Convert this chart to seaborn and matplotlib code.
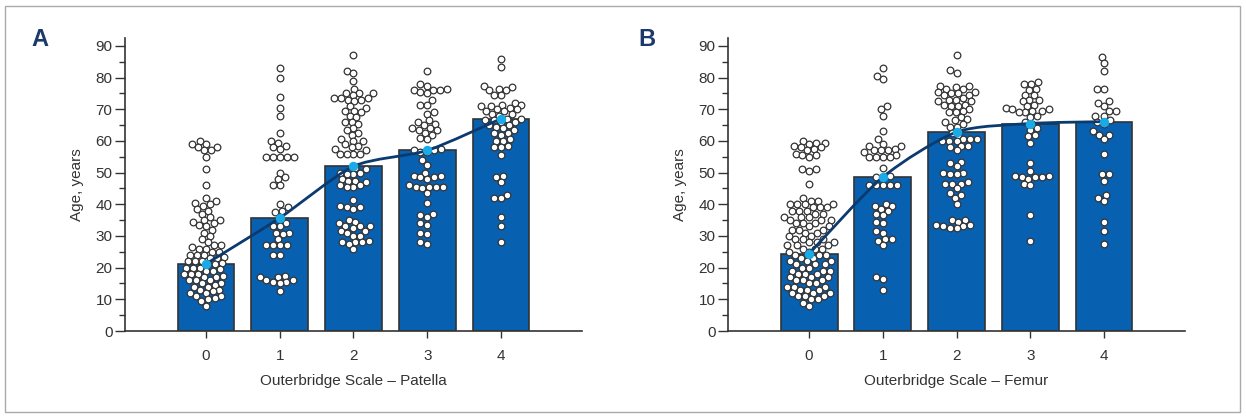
import numpy as np
import pandas as pd
import seaborn as sns
import matplotlib
matplotlib.use("Agg")
import matplotlib.pyplot as plt
from matplotlib.path import Path
from matplotlib.patches import PathPatch, Rectangle
from matplotlib.ticker import MultipleLocator

grades = ["0", "1", "2", "3", "4"]

# bar heights / mean age per grade
patella_means = [21.2, 35.7, 52.0, 57.0, 67.0]
femur_means = [24.4, 48.6, 62.8, 65.5, 66.1]

# individual ages, patella
patella_0 = [60, 59, 59, 58, 58, 57, 57, 55, 51, 46,
             42, 41, 40.5, 40, 39.5, 38.5, 38, 37, 36, 35, 35, 34.5, 34, 33.5, 33, 32, 31, 30, 29,
             28, 27, 27, 26.5, 26, 26, 25, 25, 24, 24, 24, 23.5, 23, 23, 22, 22, 22, 21.5, 21, 21,
             20, 20, 20, 19.5, 19, 19, 18, 18, 18, 17.5, 17, 17, 16, 16, 16, 15, 15, 14.5, 14, 14,
             13, 13, 12.5, 12, 12, 11, 11, 10.5, 10, 9.5, 8]
patella_1 = [83, 80, 74, 70.5, 68, 62.5, 60, 59.5, 58.5, 58, 57.5, 55, 55, 55, 55, 55, 50, 48.5,
             48, 46, 46, 40, 39, 38, 37.5, 36, 34, 33, 33, 31, 31, 30.5, 29, 27, 27, 27, 27, 24, 24,
             17.5, 17, 17, 16, 16, 15.5, 15.5, 15, 12.5]
patella_2 = [87, 82, 81.5, 79, 76.5, 75, 75, 75, 74.5, 73.5, 73.5, 73.5, 73, 73, 72.5, 71, 70.5,
             69.5, 69.5, 69, 68, 67.5, 66, 66, 65.5, 64, 63.5, 62.5, 62, 60.5, 60, 60, 59, 58.5, 58,
             57.5, 57, 56, 56, 56, 56, 51.5, 51, 50, 50, 49.5, 49.5, 48, 47.5, 47.5, 47, 46, 46,
             45.5, 45.5, 41.5, 39.5, 39, 39, 38.5, 35, 34.5, 34, 33, 33, 33, 32.5, 31.5, 31.5, 31,
             30, 30, 28.5, 28, 28, 28, 27.5, 26]
patella_3 = [82, 78, 77.5, 76.5, 76, 76, 76, 75.5, 75, 73, 71.5, 71.5, 69, 68.5, 66.5, 66, 65.5,
             65, 64, 64, 63.5, 63.5, 62.5, 62, 61, 60.5, 57.5, 57, 57, 56.5, 56.5, 54, 52.5, 50, 49,
             49, 48.5, 48.5, 48, 46, 45.5, 45.5, 45.5, 45.5, 45, 43.5, 40.5, 37, 36.5, 36, 34, 33.5,
             31, 30.5, 28, 27.5]
patella_4 = [86, 83.5, 77.5, 77, 76.5, 76, 76, 74.5, 74.5, 72, 71.5, 71.5, 71, 71, 70.5, 70, 70,
             69.5, 69.5, 68.5, 68.5, 68, 67, 67, 66.5, 66.5, 66, 66, 65, 65, 64.5, 64, 63.5, 62.5,
             62.5, 62, 60.5, 60, 60, 58.5, 58, 58, 55.5, 49, 48.5, 47, 43, 42, 42, 36, 33, 28]

# individual ages, femur
femur_0 = [60, 59.5, 59.5, 59, 58.5, 58, 58, 57.5, 57, 56, 55.5, 55.5, 55, 51, 51, 50.5, 46.5,
           42, 41, 41, 40, 40, 40, 40, 39, 39, 39, 38, 38, 38, 37, 37, 36, 36, 36, 35, 35, 35,
           34, 34, 34, 33, 33, 32, 32, 32, 31, 31, 30, 30, 29, 29, 29, 28, 28, 28, 27, 27, 27,
           26, 26, 26, 25, 25, 24, 24, 24, 23, 23, 22, 22, 22, 21, 21, 21, 20, 20, 19, 19, 19,
           18, 18, 18, 17, 17, 17, 16, 16, 16, 15, 15, 14, 14, 14, 13, 13, 13, 12, 12, 12,
           11, 11, 11, 10, 10, 9, 8]
femur_1 = [83, 80.5, 79.5, 71, 70, 68, 63, 60.5, 59, 58.5, 58.5, 57.5, 57, 57, 57, 56.5, 55.5,
           55, 55, 55, 55, 51.5, 49, 48.5, 48.5, 46, 46, 46, 46, 46, 40, 39.5, 39.5, 38.5, 38,
           37, 36.5, 34.5, 34, 31.5, 31, 29, 29, 28.5, 27, 17, 16.5, 13]
femur_2 = [87, 82.5, 81.5, 77.5, 77.5, 77, 76.5, 76.5, 75.5, 75.5, 75, 75, 74.5, 74.5, 73.5, 73,
           73, 72.5, 72.5, 71.5, 71.5, 71, 71, 70, 69.5, 69, 69, 67.5, 67, 66.5, 66, 65.5, 64.5,
           64.5, 62.5, 62, 60.5, 60.5, 60.5, 60, 60, 60, 58.5, 58.5, 58, 57, 53.5, 53, 52, 50, 50,
           49.5, 49.5, 47, 46.5, 46.5, 46.5, 45, 43.5, 43, 42, 40, 35, 35, 34.5, 33.5, 33.5, 33,
           33, 32.5, 32.5]
femur_3 = [78.5, 78, 78, 76.5, 76, 74.5, 74.5, 73, 73, 72.5, 71.5, 71, 70.5, 70, 70, 69.5, 69.5,
           69, 69, 68, 67.5, 66, 65.5, 64, 63.5, 62, 61.5, 59.5, 53, 50.5, 49, 49, 48.5, 48.5,
           48.5, 48, 46.5, 46, 36.5, 28.5]
femur_4 = [86.5, 84.5, 82, 76.5, 76.5, 72.5, 72, 71, 69.5, 69.5, 68, 68, 66.5, 66, 65.5, 63, 62,
           62, 60.5, 56, 49.5, 49.5, 47.5, 43, 42, 41, 34.5, 31.5, 27.5]

BAR = "#0860B0"
EDGE = "#333333"
LINE = "#0B3A6E"
CYAN = "#1AAAE8"
TXT = "#333333"

sns.set_theme(style="ticks")
plt.rcParams['font.family'] = ['Liberation Sans Narrow', 'Liberation Sans', 'DejaVu Sans']


def long_table(groups):
    rows = []
    for g, vals in zip(grades, groups):
        for v in vals:
            rows.append((g, v))
    return pd.DataFrame(rows, columns=["grade", "age"])


def smooth_path(xs, ys, k=8.0):
    # catmull-rom-ish curve through the means, as bezier segments (larger k = straighter)
    pts = np.column_stack([xs, ys]).astype(float)
    n = len(pts)
    verts = [tuple(pts[0])]
    codes = [Path.MOVETO]
    for i in range(n - 1):
        p0 = pts[max(i - 1, 0)]
        p1 = pts[i]
        p2 = pts[i + 1]
        p3 = pts[min(i + 2, n - 1)]
        c1 = p1 + (p2 - p0) / k
        c2 = p2 - (p3 - p1) / k
        verts += [tuple(c1), tuple(c2), tuple(p2)]
        codes += [Path.CURVE4] * 3
    return Path(verts, codes)


swarms = []


def panel(ax, means, groups, xlabel):
    bars = pd.DataFrame({"grade": grades, "age": means})
    sns.barplot(data=bars, x="grade", y="age", order=grades, color=BAR, saturation=1,
                edgecolor=EDGE, linewidth=1.2, width=0.77, errorbar=None, ax=ax, zorder=1)
    n_before = len(ax.collections)
    # swarm laid out slightly tighter than the drawn circles, so they overlap a bit
    sns.swarmplot(data=long_table(groups), x="grade", y="age", order=grades, color="white",
                  edgecolor=EDGE, linewidth=0.55, size=4.2, ax=ax, zorder=3)
    swarms.append((ax, ax.collections[n_before:]))
    pos = np.arange(len(grades))
    ax.add_patch(PathPatch(smooth_path(pos, means), fill=False, edgecolor=LINE, lw=2, zorder=4))
    ax.plot(pos, means, "o", color=CYAN, markersize=6.8, markeredgewidth=0, zorder=5)

    ax.set_xlim(-1.1, 5.1)
    ax.set_ylim(0, 92.5)
    ax.set_yticks(range(0, 91, 10))
    ax.yaxis.set_minor_locator(MultipleLocator(5))
    ax.tick_params(axis="y", which="major", length=7, width=1, color=EDGE, labelsize=11,
                   labelcolor=TXT, pad=2)
    ax.tick_params(axis="y", which="minor", length=4.5, width=1, color=EDGE)
    ax.tick_params(axis="x", length=5, width=1, color=EDGE, labelsize=11, labelcolor=TXT, pad=8)
    ax.set_xlabel(xlabel, fontsize=11, color=TXT, labelpad=8)
    ax.set_ylabel("Age, years", fontsize=11, color=TXT, labelpad=8)
    for s in ["top", "right"]:
        ax.spines[s].set_visible(False)
    for s in ["left", "bottom"]:
        ax.spines[s].set_color(EDGE)
        ax.spines[s].set_linewidth(1.2)


fig = plt.figure(figsize=(12.46, 4.18), dpi=100)
axA = fig.add_axes([0.1003, 0.2081, 0.3668, 0.7010])
axB = fig.add_axes([0.5843, 0.2081, 0.3668, 0.7010])

panel(axA, patella_means, [patella_0, patella_1, patella_2, patella_3, patella_4],
      "Outerbridge Scale \u2013 Patella")
panel(axB, femur_means, [femur_0, femur_1, femur_2, femur_3, femur_4],
      "Outerbridge Scale \u2013 Femur")

fig.text(40 / 1246, 1 - 39 / 418, "A", fontsize=17, fontweight="bold", color="#1B3A6B",
         ha="center", va="center")
fig.text(647 / 1246, 1 - 39 / 418, "B", fontsize=17, fontweight="bold", color="#1B3A6B",
         ha="center", va="center")

fig.patches.append(Rectangle((5 / 1246, 6 / 418), 1235 / 1246, 406 / 418, transform=fig.transFigure,
                             fill=False, edgecolor="#AAAAAA", lw=1))

# run the swarm layout once, then redraw the placed points as slightly larger circles
fig.canvas.draw()
for ax, colls in swarms:
    for c in colls:
        offs = np.asarray(c.get_offsets())
        c.remove()
        ax.scatter(offs[:, 0], offs[:, 1], s=4.8 ** 2, facecolor="white", edgecolors=EDGE,
                   linewidths=0.9, zorder=3)

fig.savefig("out.png", dpi=100)
